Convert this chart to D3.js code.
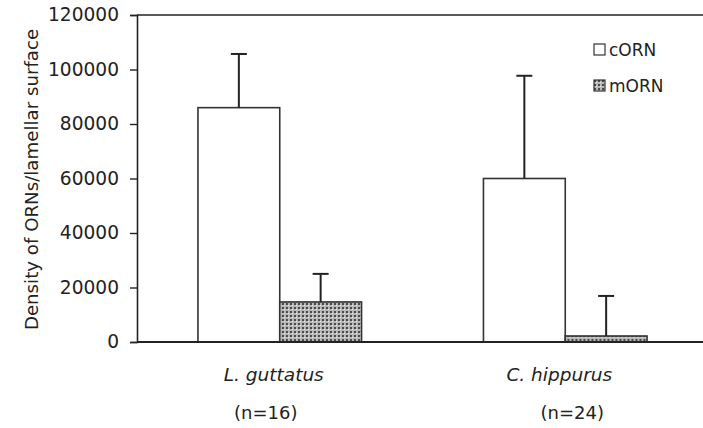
<!DOCTYPE html>
<html>
<head>
<meta charset="utf-8">
<script src="https://cdn.jsdelivr.net/npm/d3@7"></script>
<style>
  body { margin: 0; background: #fff; }
  text { font-family: "DejaVu Sans", sans-serif; fill: #222; }
</style>
</head>
<body>
<svg id="chart" width="703" height="428"></svg>
<script>
// data
const species = ["L. guttatus", "C. hippurus"]
const sampleSizes = ["(n=16)", "(n=24)"]
const series = ["cORN", "mORN"]
const cORN = [86000, 60000]
const cORNerr = [19700, 37700]
const mORN = [14700, 2200]
const mORNerr = [10300, 14700]
const yTicks = [0, 20000, 40000, 60000, 80000, 100000, 120000]

const rows = species.map((s, i) => ({
    group: s,
    n: sampleSizes[i],
    cORN: cORN[i], cORN_err: cORNerr[i],
    mORN: mORN[i], mORN_err: mORNerr[i]
}))

const dims = {
    width: 703, height: 428,
    margin: {top: 15, right: -5, bottom: 86, left: 137}
}
const plotW = dims.width - dims.margin.left - dims.margin.right
const plotH = dims.height - dims.margin.top - dims.margin.bottom

const svg = d3.select("#chart")

// stipple pattern for mORN
const defs = svg.append("defs")
const pat = defs.append("pattern")
    .attr("id", "stipple")
    .attr("patternUnits", "userSpaceOnUse")
    .attr("width", 4).attr("height", 4)
pat.append("rect").attr("width", 4).attr("height", 4).attr("fill", "#b8b8b8")
pat.append("rect").attr("x", 0).attr("y", 0).attr("width", 2).attr("height", 2).attr("fill", "#4a4a4a")
pat.append("rect").attr("x", 2).attr("y", 2).attr("width", 1).attr("height", 1).attr("fill", "#ececec")

const color = d3.scaleOrdinal()
    .domain(series)
    .range(["#ffffff", "url(#stipple)"])

const g = svg.append("g")
    .attr("transform", "translate(" + dims.margin.left + "," + dims.margin.top + ")")

const x0 = d3.scaleBand()
    .domain(species)
    .range([0, plotW])
    .paddingInner(0.427)
    .paddingOuter(0.2135)

const x1 = d3.scaleBand()
    .domain(series)
    .range([0, x0.bandwidth()])

const y = d3.scaleLinear()
    .domain([0, 120000])
    .range([plotH, 0])

// bars
const grp = g.selectAll("g.grp")
    .data(rows)
    .enter().append("g")
    .attr("class", "grp")
    .attr("transform", d => "translate(" + x0(d.group) + ",0)")

grp.selectAll("rect")
    .data(d => series.map(k => ({key: k, value: d[k], err: d[k + "_err"]})))
    .enter().append("rect")
    .attr("x", d => x1(d.key))
    .attr("y", d => y(d.value))
    .attr("width", x1.bandwidth())
    .attr("height", d => plotH - y(d.value))
    .attr("fill", d => color(d.key))
    .attr("stroke", "#333")
    .attr("stroke-width", 1.6)

// upper error bars
const eb = grp.selectAll("g.err")
    .data(d => series.map(k => ({key: k, value: d[k], err: d[k + "_err"]})))
    .enter().append("g")
    .attr("class", "err")
    .attr("stroke", "#222")
    .attr("stroke-width", 2)
eb.append("line")
    .attr("x1", d => x1(d.key) + x1.bandwidth() / 2)
    .attr("x2", d => x1(d.key) + x1.bandwidth() / 2)
    .attr("y1", d => y(d.value))
    .attr("y2", d => y(d.value + d.err))
eb.append("line")
    .attr("x1", d => x1(d.key) + x1.bandwidth() / 2 - 8)
    .attr("x2", d => x1(d.key) + x1.bandwidth() / 2 + 8)
    .attr("y1", d => y(d.value + d.err))
    .attr("y2", d => y(d.value + d.err))

// axes
const yAxis = g.append("g")
    .call(d3.axisLeft(y).tickValues(yTicks).tickFormat(d3.format("d")).tickSize(7).tickPadding(11))
yAxis.select(".domain").attr("stroke", "#222").attr("stroke-width", 1.6)
yAxis.selectAll(".tick line").attr("stroke", "#222").attr("stroke-width", 1.4)
yAxis.selectAll("text").style("font-size", "18.6px").attr("fill", "#222")

g.append("line")
    .attr("x1", 0).attr("x2", dims.width - dims.margin.left)
    .attr("y1", plotH).attr("y2", plotH)
    .attr("stroke", "#222").attr("stroke-width", 2)
g.append("line")
    .attr("x1", 0).attr("x2", dims.width - dims.margin.left)
    .attr("y1", 0).attr("y2", 0)
    .attr("stroke", "#222").attr("stroke-width", 1.6)

// category labels
const labels = g.selectAll("g.lab")
    .data(rows)
    .enter().append("g")
    .attr("class", "lab")
    .attr("transform", d => "translate(" + (x0(d.group) + x0.bandwidth() / 2) + ",0)")
labels.append("text")
    .attr("x", -6)
    .attr("y", plotH + 39)
    .attr("text-anchor", "middle")
    .style("font-size", "18.5px")
    .style("font-style", "italic")
    .text(d => d.group)
labels.append("text")
    .attr("x", (d, i) => i === 0 ? -14 : 7)
    .attr("y", plotH + 77)
    .attr("text-anchor", "middle")
    .style("font-size", "18px")
    .text(d => d.n)

// y title
svg.append("text")
    .attr("transform", "translate(38," + (dims.margin.top + plotH / 2 + 1) + ") rotate(-90)")
    .attr("text-anchor", "middle")
    .style("font-size", "18.2px")
    .text("Density of ORNs/lamellar surface")

// legend
const legend = svg.append("g").attr("transform", "translate(594,44)")
const li = legend.selectAll("g")
    .data(series)
    .enter().append("g")
    .attr("transform", (d, i) => "translate(0," + i * 36 + ")")
li.append("rect")
    .attr("width", 11).attr("height", 11)
    .attr("fill", d => color(d))
    .attr("stroke", "#333").attr("stroke-width", 1.2)
li.append("text")
    .attr("x", 15).attr("y", 12)
    .style("font-size", "17px")
    .text(d => d)
</script>
</body>
</html>
